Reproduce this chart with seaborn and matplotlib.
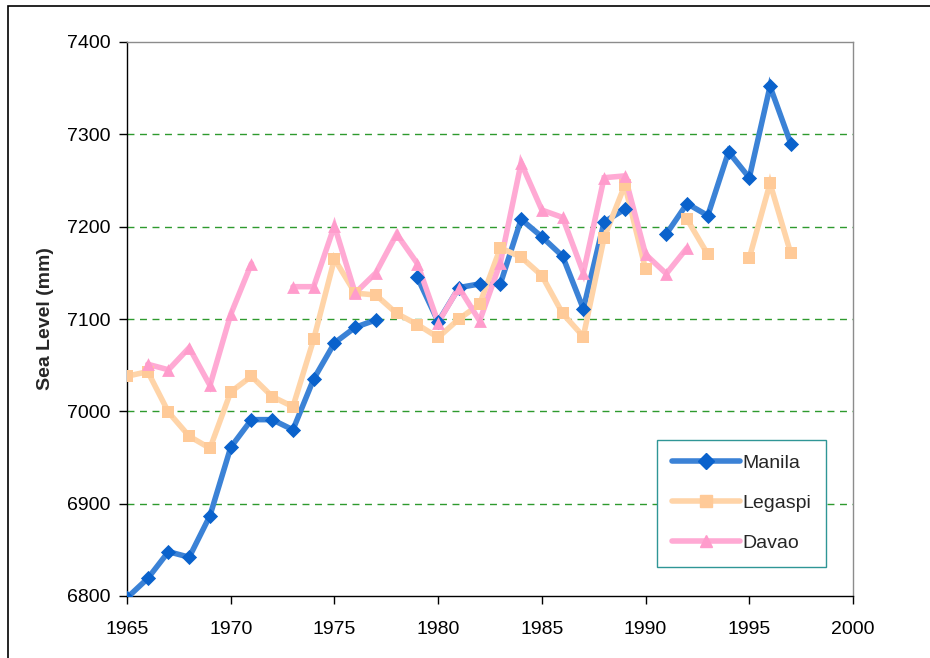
import numpy as np
import pandas as pd
import matplotlib
matplotlib.use("Agg")
import matplotlib.pyplot as plt
from matplotlib.lines import Line2D
from matplotlib.patches import Rectangle
import seaborn as sns

years = list(range(1965, 1998))
nan = np.nan

manila = [6798, 6819, 6848, 6842, 6887, 6961, 6991, 6991, 6980, 7035,
          7074, 7091, 7099, nan, 7145, 7097, 7134, 7138, 7138, 7208,
          7189, 7168, 7111, 7205, 7219, nan, 7192, 7225, 7212, 7281,
          7253, 7352, 7290]
legaspi = [7038, 7043, 6999, 6973, 6960, 7021, 7038, 7016, 7005, 7078,
           7165, 7128, 7126, 7106, 7094, 7080, 7100, 7116, 7177, 7167,
           7147, 7106, 7081, 7188, 7245, 7154, nan, 7208, 7170, nan,
           7166, 7247, 7171]
davao = [nan, 7051, 7045, 7069, 7028, 7105, 7160, nan, 7135, 7135,
         7201, 7128, 7150, 7192, 7160, 7096, 7134, 7098, 7161, 7269,
         7218, 7210, 7150, 7253, 7255, 7170, 7149, 7177, nan, nan,
         nan, nan, nan]

series_names = ["Manila", "Legaspi", "Davao"]
series_values = [manila, legaspi, davao]
x_ticks = [1965, 1970, 1975, 1980, 1985, 1990, 1995, 2000]
y_ticks = [6800, 6900, 7000, 7100, 7200, 7300, 7400]

styles = {
    "Manila": dict(line="#3b82d6", mk="#0a62cc", marker="D", ms=60),
    "Legaspi": dict(line="#ffd4a8", mk="#ffca98", marker="s", ms=65),
    "Davao": dict(line="#ffaad4", mk="#ff9ccc", marker="^", ms=85),
}

sns.set_theme(style="white")
plt.rcParams["font.family"] = ["Liberation Sans", "DejaVu Sans"]

fig = plt.figure(figsize=(9.3, 6.58), dpi=100)
ax = fig.add_axes([127 / 930, 1 - 596 / 658, (853 - 127) / 930, (596 - 42) / 658])

for name, vals in zip(series_names, series_values):
    df = pd.DataFrame({"year": years, "level": vals})
    df["seg"] = df["level"].isna().cumsum()
    df = df.dropna()
    st = styles[name]
    sns.lineplot(data=df, x="year", y="level", units="seg", estimator=None,
                 color=st["line"], linewidth=4.0, ax=ax, legend=False,
                 solid_joinstyle="miter", zorder=3)
    sns.scatterplot(data=df, x="year", y="level", marker=st["marker"],
                    color=st["mk"], s=st["ms"], linewidth=0, ax=ax,
                    legend=False, zorder=4)

ax.set_xlim(1965, 2000)
ax.set_ylim(6800, 7400)
ax.set_xticks(x_ticks)
ax.set_yticks(y_ticks)
ax.set_xticklabels([str(t) for t in x_ticks], fontsize=14)
ax.set_yticklabels([str(t) for t in y_ticks], fontsize=14)
ax.set_xlabel("")
ax.set_ylabel("Sea Level (mm)", fontsize=14, fontweight="bold", labelpad=9)

for yv in [6900, 7000, 7100, 7200, 7300]:
    ax.axhline(yv, color="#2e9a2e", linewidth=1.0, linestyle=(0, (5, 4)), zorder=1)

for s in ["left", "bottom"]:
    ax.spines[s].set_color("#000000")
    ax.spines[s].set_linewidth(1.0)
for s in ["top", "right"]:
    ax.spines[s].set_color("#8c8c8c")
    ax.spines[s].set_linewidth(1.0)

ax.tick_params(axis="both", which="major", direction="out", length=6, width=1,
               color="#000000", left=True, bottom=True, labelcolor="#000000")
ax.tick_params(axis="x", pad=12)
ax.tick_params(axis="y", pad=6)

handles = []
for name in series_names:
    st = styles[name]
    handles.append(Line2D([0], [0], color=st["line"], linewidth=4.0,
                          marker=st["marker"], markerfacecolor=st["mk"],
                          markeredgecolor=st["mk"], markersize=8.5))
leg = ax.legend(handles, series_names, loc="upper left",
                bbox_to_anchor=((657 - 127) / 726, (596 - 440) / 554),
                frameon=True, fancybox=False, fontsize=14, handlelength=3.5,
                handletextpad=0.15, labelspacing=1.15, borderpad=0.75,
                borderaxespad=0)
leg.get_frame().set_edgecolor("#2f9696")
leg.get_frame().set_linewidth(1.0)
leg.get_frame().set_facecolor("white")
leg.get_frame().set_alpha(1)

frame = Rectangle((8 / 930, -1), 2, 1 - 6 / 658 + 1, transform=fig.transFigure,
                  fill=False, edgecolor="#000000", linewidth=1.2, clip_on=False)
fig.patches.append(frame)

fig.savefig("out.png", dpi=100)
